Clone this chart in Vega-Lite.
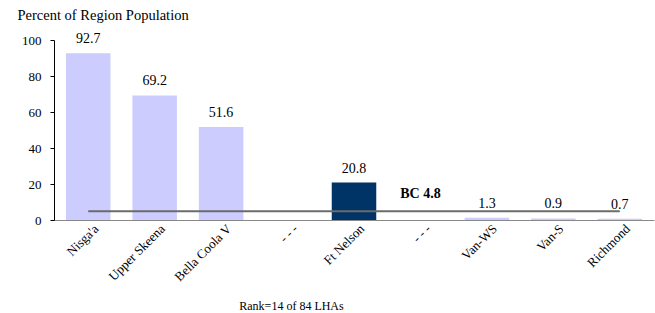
{
  "$schema": "https://vega.github.io/schema/vega-lite/v6.json",
  "width": 600,
  "height": 180,
  "autosize": {"type": "none"},
  "padding": {"left": 54, "top": 40, "right": 1, "bottom": 93},
  "background": "white",
  "config": {
    "font": "Liberation Serif",
    "view": {"stroke": null},
    "text": {"font": "Liberation Serif"}
  },
  "datasets": {
    "bars": [
      {"region": "Nisga'a", "value": 92.7, "label": "92.7"},
      {"region": "Upper Skeena", "value": 69.2, "label": "69.2"},
      {"region": "Bella Coola V", "value": 51.6, "label": "51.6"},
      {"region": "Ft Nelson", "value": 20.8, "label": "20.8"},
      {"region": "Van-WS", "value": 1.3, "label": "1.3"},
      {"region": "Van-S", "value": 0.9, "label": "0.9"},
      {"region": "Richmond", "value": 0.7, "label": "0.7"}
    ],
    "bcline": [
      {"region": "Nisga'a", "end": "Richmond", "value": 4.8}
    ],
    "bclabel": [
      {"region": "gap2", "value": 4.8, "label": "BC 4.8"}
    ]
  },
  "encoding": {
    "x": {
      "field": "region", "type": "nominal", "sort": null,
      "scale": {"domain": ["Nisga'a", "Upper Skeena", "Bella Coola V", "gap1", "Ft Nelson", "gap2", "Van-WS", "Van-S", "Richmond"], "paddingInner": 0.33, "paddingOuter": 0.18},
      "axis": {
        "labelAngle": -45, "labelFontSize": 13, "labelPadding": 2, "labelOffset": 4,
        "labelFont": "Liberation Serif", "titleFont": "Liberation Serif",
        "labelColor": "black", "titleColor": "black",
        "labelExpr": "indexof(datum.value, 'gap') == 0 ? '- - -' : datum.value",
        "ticks": false, "domainColor": "#888888", "domainWidth": 1,
        "title": "Rank=14 of 84 LHAs", "titleFontSize": 12, "titleFontWeight": "normal",
        "titleX": 237, "titleY": 80
      }
    },
    "y": {
      "field": "value", "type": "quantitative",
      "scale": {"domain": [0, 100]},
      "axis": {
        "values": [0, 20, 40, 60, 80, 100], "grid": false, "labelOverlap": false,
        "labelFont": "Liberation Serif", "titleFont": "Liberation Serif",
        "labelColor": "black", "titleColor": "black",
        "domainColor": "black", "tickColor": "black", "tickSize": 4,
        "labelPadding": 9, "labelFontSize": 13,
        "title": "Percent of Region Population", "titleAngle": 0,
        "titleAlign": "left", "titleBaseline": "middle",
        "titleX": -37, "titleY": -25, "titleFontSize": 14.5, "titleFontWeight": "normal"
      }
    }
  },
  "layer": [
    {
      "data": {"name": "bars"},
      "mark": {"type": "bar"},
      "encoding": {
        "color": {
          "condition": {"test": "datum.region == 'Ft Nelson'", "value": "#003366"},
          "value": "#ccccff"
        }
      }
    },
    {
      "data": {"name": "bars"},
      "mark": {"type": "text", "dy": -14, "fontSize": 14, "color": "black"},
      "encoding": {
        "text": {"field": "label"}
      }
    },
    {
      "data": {"name": "bcline"},
      "mark": {"type": "rule", "color": "#6b6b6b", "strokeWidth": 2},
      "encoding": {
        "x2": {"field": "end"}
      }
    },
    {
      "data": {"name": "bclabel"},
      "mark": {"type": "text", "dy": -17, "fontSize": 14, "fontWeight": "bold", "color": "black"},
      "encoding": {
        "text": {"field": "label"}
      }
    }
  ]
}
